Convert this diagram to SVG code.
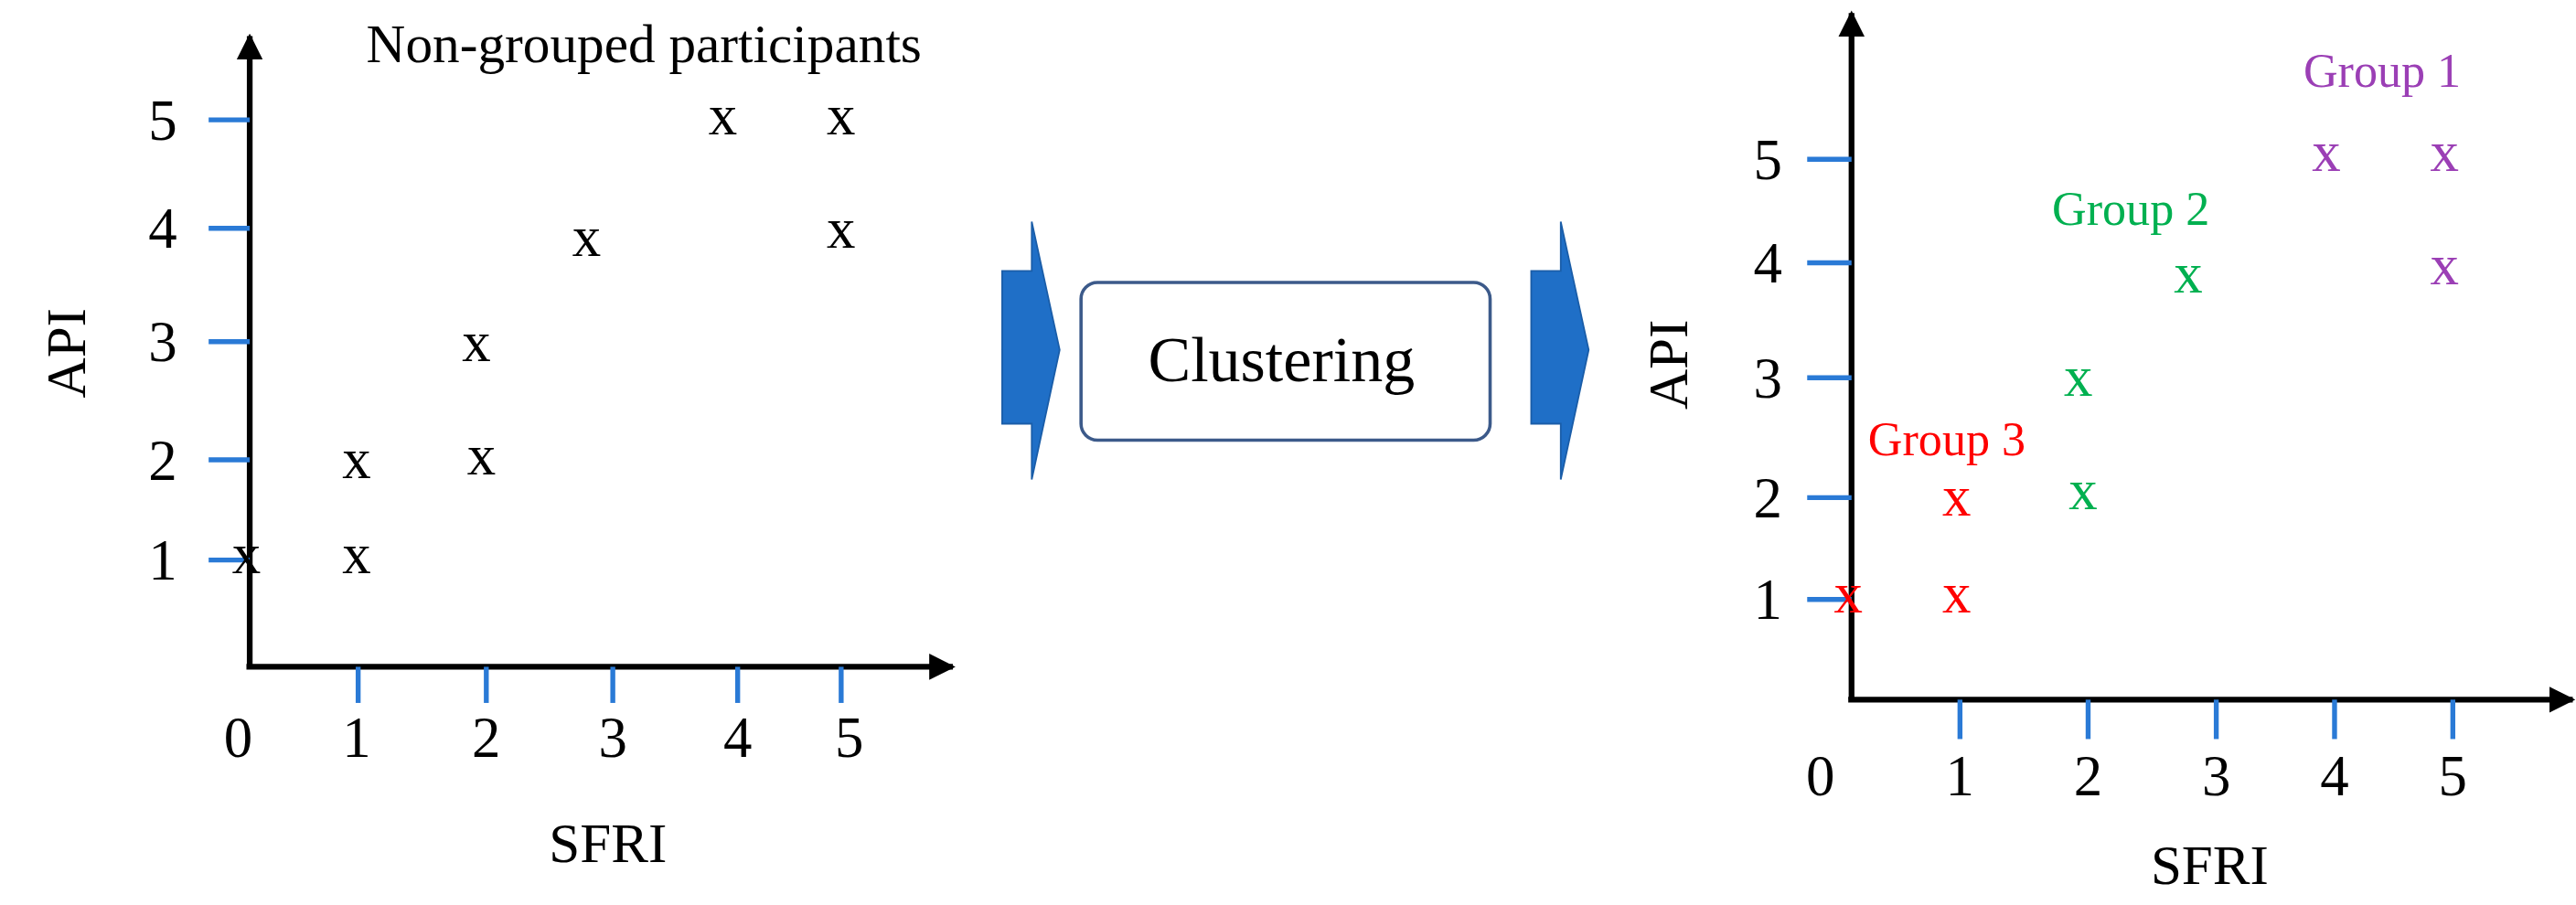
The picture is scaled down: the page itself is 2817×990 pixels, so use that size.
<svg xmlns="http://www.w3.org/2000/svg" width="2817" height="990" viewBox="0 0 2817 990">
<style>
text{font-family:"Liberation Serif",serif;fill:#000}
.n{font-size:35px;text-anchor:middle}
.p{font-size:34px;text-anchor:middle}
.ax{stroke:#000;stroke-width:3.5;fill:none}
.tk{stroke:#2a7ad6;stroke-width:3}
.g{font-size:29px;text-anchor:middle}
</style>
<defs>
<marker id="ah2" viewBox="0 0 10 10" refX="9" refY="5" markerWidth="16" markerHeight="16" orient="auto" markerUnits="userSpaceOnUse"><path d="M0,0L10,5L0,10z" fill="#000"/></marker></defs>
<g transform="scale(1.7966)">
<g id="left-plot">
<line class="ax" x1="152" y1="406" x2="152" y2="22" marker-end="url(#ah2)"/>
<line class="ax" x1="150" y1="406" x2="580" y2="406" marker-end="url(#ah2)"/>
<g class="tk"><line x1="127" y1="73" x2="152" y2="73"/><line x1="127" y1="139" x2="152" y2="139"/><line x1="127" y1="208" x2="152" y2="208"/><line x1="127" y1="280" x2="152" y2="280"/><line x1="127" y1="341" x2="152" y2="341"/>
<line x1="218" y1="406" x2="218" y2="428"/><line x1="296" y1="406" x2="296" y2="428"/><line x1="373" y1="406" x2="373" y2="428"/><line x1="449" y1="406" x2="449" y2="428"/><line x1="512" y1="406" x2="512" y2="428"/></g>
<text class="n" x="99" y="85">5</text><text class="n" x="99" y="151">4</text><text class="n" x="99" y="220">3</text><text class="n" x="99" y="292">2</text><text class="n" x="99" y="353">1</text>
<text class="n" x="145" y="461">0</text><text class="n" x="217" y="461">1</text><text class="n" x="296" y="461">2</text><text class="n" x="373" y="461">3</text><text class="n" x="449" y="461">4</text><text class="n" x="517" y="461">5</text>
<text class="p" x="370" y="525">SFRI</text>
<text class="p" transform="translate(52,215) rotate(-90)">API</text>
<text x="392" y="38" style="font-size:33px;text-anchor:middle">Non-grouped participants</text>
<text class="n" x="150" y="349">x</text><text class="n" x="217" y="349">x</text><text class="n" x="217" y="291">x</text><text class="n" x="293" y="289">x</text><text class="n" x="290" y="220">x</text><text class="n" x="357" y="156">x</text><text class="n" x="512" y="151">x</text><text class="n" x="440" y="82">x</text><text class="n" x="512" y="82">x</text>
</g>
<g id="connectors">
<path d="M610,165H628V135L645,213L628,292V258H610Z" fill="#1f6fc7" stroke="#1a5da8" stroke-width="1"/>
<path d="M932,165H950V135L967,213L950,292V258H932Z" fill="#1f6fc7" stroke="#1a5da8" stroke-width="1"/>
</g>
<g id="clustering">
<rect x="658" y="172" width="249" height="96" rx="10" fill="#fff" stroke="#3c5a8a" stroke-width="2"/>
<text x="780" y="232" style="font-size:39px;text-anchor:middle">Clustering</text>
</g>
<g id="right-plot">
<line class="ax" x1="1127" y1="426" x2="1127" y2="8" marker-end="url(#ah2)"/>
<line class="ax" x1="1125" y1="426" x2="1566" y2="426" marker-end="url(#ah2)"/>
<g class="tk"><line x1="1100" y1="97" x2="1127" y2="97"/><line x1="1100" y1="160" x2="1127" y2="160"/><line x1="1100" y1="230" x2="1127" y2="230"/><line x1="1100" y1="303" x2="1127" y2="303"/><line x1="1100" y1="365" x2="1127" y2="365"/>
<line x1="1193" y1="426" x2="1193" y2="450"/><line x1="1271" y1="426" x2="1271" y2="450"/><line x1="1349" y1="426" x2="1349" y2="450"/><line x1="1421" y1="426" x2="1421" y2="450"/><line x1="1493" y1="426" x2="1493" y2="450"/></g>
<text class="n" x="1076" y="109">5</text><text class="n" x="1076" y="172">4</text><text class="n" x="1076" y="242">3</text><text class="n" x="1076" y="315">2</text><text class="n" x="1076" y="377">1</text>
<text class="n" x="1108" y="484">0</text><text class="n" x="1193" y="484">1</text><text class="n" x="1271" y="484">2</text><text class="n" x="1349" y="484">3</text><text class="n" x="1421" y="484">4</text><text class="n" x="1493" y="484">5</text>
<text class="p" x="1345" y="538">SFRI</text>
<text class="p" transform="translate(1027,222) rotate(-90)">API</text>
<text class="g" x="1450" y="53" style="fill:#9b3fb5">Group 1</text>
<text class="g" x="1297" y="137" style="fill:#00b050">Group 2</text>
<text class="g" x="1185" y="277" style="fill:#ff0000">Group 3</text>
<text class="n" x="1125" y="373" style="fill:#ff0000">x</text><text class="n" x="1191" y="373" style="fill:#ff0000">x</text><text class="n" x="1191" y="314" style="fill:#ff0000">x</text>
<text class="n" x="1268" y="310" style="fill:#00b050">x</text><text class="n" x="1265" y="241" style="fill:#00b050">x</text><text class="n" x="1332" y="178" style="fill:#00b050">x</text>
<text class="n" x="1488" y="173" style="fill:#9b3fb5">x</text><text class="n" x="1416" y="104" style="fill:#9b3fb5">x</text><text class="n" x="1488" y="104" style="fill:#9b3fb5">x</text>
</g>
</g>
</svg>
